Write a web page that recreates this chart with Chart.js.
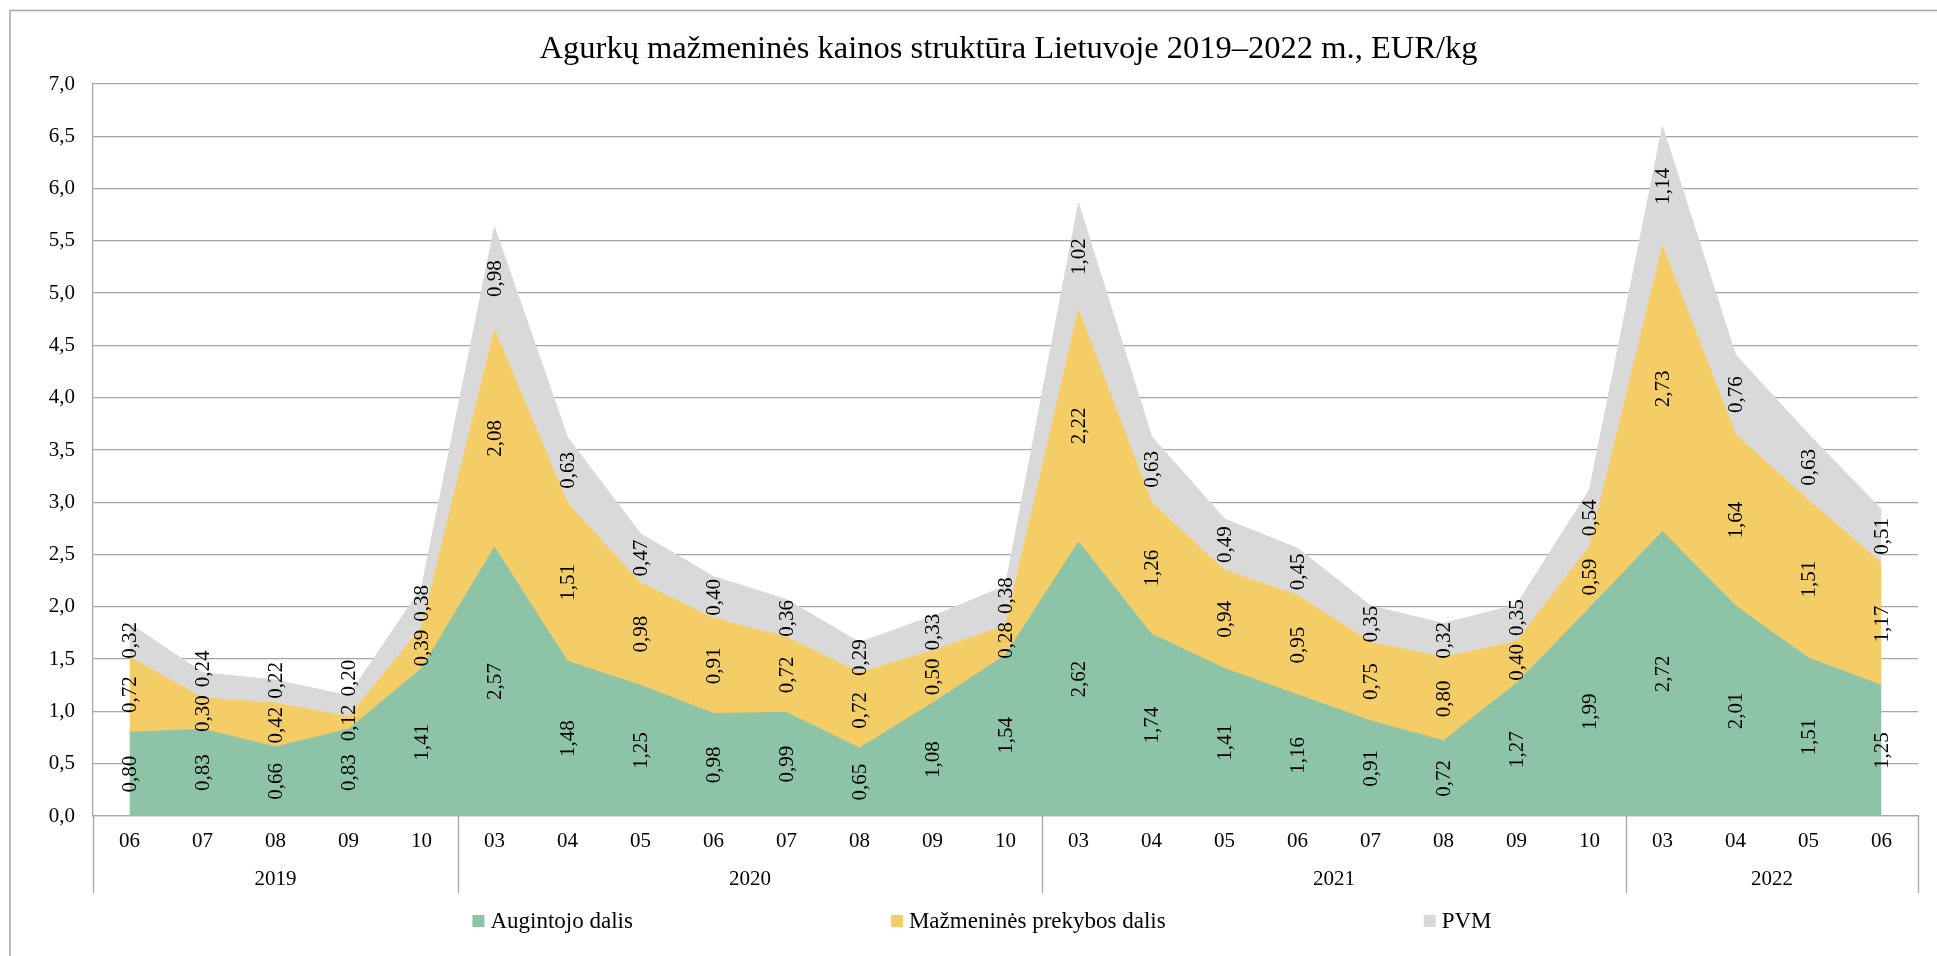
<!DOCTYPE html>
<html>
<head>
<meta charset="utf-8">
<title>Agurkų mažmeninės kainos struktūra</title>
<script src="https://cdn.jsdelivr.net/npm/chart.js@4.4.1/dist/chart.umd.min.js"></script>
<style>
  body { margin: 0; background: #fff; }
  canvas { display: block; }
</style>
</head>
<body>
<canvas id="myChart" width="1937" height="956"></canvas>
<script>
// data

const months = ['06', '07', '08', '09', '10',
  '03', '04', '05', '06', '07', '08', '09', '10',
  '03', '04', '05', '06', '07', '08', '09', '10',
  '03', '04', '05', '06'];
const yearLabels = ['2019', '2020', '2021', '2022'];
const yearCounts = [5, 8, 8, 4];

const augintojo = [0.80, 0.83, 0.66, 0.83, 1.41,
  2.57, 1.48, 1.25, 0.98, 0.99, 0.65, 1.08, 1.54,
  2.62, 1.74, 1.41, 1.16, 0.91, 0.72, 1.27, 1.99,
  2.72, 2.01, 1.51, 1.25];
const prekybos = [0.72, 0.30, 0.42, 0.12, 0.39,
  2.08, 1.51, 0.98, 0.91, 0.72, 0.72, 0.50, 0.28,
  2.22, 1.26, 0.94, 0.95, 0.75, 0.80, 0.40, 0.59,
  2.73, 1.64, 1.51, 1.17];
const pvm = [0.32, 0.24, 0.22, 0.20, 0.38,
  0.98, 0.63, 0.47, 0.40, 0.36, 0.29, 0.33, 0.38,
  1.02, 0.63, 0.49, 0.45, 0.35, 0.32, 0.35, 0.54,
  1.14, 0.76, 0.63, 0.51];

const seriesNames = ['Augintojo dalis', 'Mažmeninės prekybos dalis', 'PVM'];
const colors = ['#8DC3A7', '#F5CD67', '#D9D9D9'];
const chartTitle = 'Agurkų mažmeninės kainos struktūra Lietuvoje 2019–2022 m., EUR/kg';

const gridColor = '#A6A6A6';
const fontFamily = 'Liberation Serif, Times New Roman, serif';

Chart.defaults.font.family = fontFamily;
Chart.defaults.color = '#000';

const comma = (v, d) => v.toFixed(d).replace('.', ',');

// white background + outer frame
const framePlugin = {
  id: 'frame',
  beforeDraw(chart) {
    const c = chart.ctx;
    c.save();
    c.fillStyle = '#fff';
    c.fillRect(0, 0, chart.width, chart.height);
    c.strokeStyle = gridColor;
    c.lineWidth = 1.5;
    c.beginPath();
    c.moveTo(10, chart.height);
    c.lineTo(10, 10.5);
    c.lineTo(chart.width, 10.5);
    c.stroke();
    c.restore();
  }
};

// rotated value labels in the middle of each band, pushed apart when they collide
const valueLabels = {
  id: 'valueLabels',
  afterDatasetsDraw(chart) {
    const c = chart.ctx;
    const y = chart.scales.y;
    c.save();
    c.font = '21px ' + fontFamily;
    c.fillStyle = '#000';
    c.textAlign = 'center';
    c.textBaseline = 'middle';
    const gap = 8;
    const sets = chart.data.datasets;
    months.forEach((m, j) => {
      let base = 0;
      let prevTop = null;
      sets.forEach((ds, i) => {
        const v = ds.data[j];
        const px = chart.getDatasetMeta(i).data[j].x;
        let py = y.getPixelForValue(base + v / 2);
        base += v;
        const txt = comma(v, 2);
        const half = c.measureText(txt).width / 2;
        if (prevTop !== null && py + half > prevTop - gap) {
          py = prevTop - gap - half;
        }
        prevTop = py - half;
        c.save();
        c.translate(px, py);
        c.rotate(-Math.PI / 2);
        c.fillText(txt, 0, 1);
        c.restore();
      });
    });
    c.restore();
  }
};

// title, year row, separators and legend
const yearAxis = {
  id: 'yearAxis',
  afterDraw(chart) {
    const c = chart.ctx;
    const x = chart.scales.x;
    const area = chart.chartArea;
    const step = x.getPixelForValue(1) - x.getPixelForValue(0);
    c.save();
    c.fillStyle = '#000';
    c.textAlign = 'center';
    c.textBaseline = 'middle';

    // title centred over the plot area
    c.font = '32.5px ' + fontFamily;
    c.fillText(chartTitle, (area.left + area.right) / 2 + 3, 49);

    c.strokeStyle = gridColor;
    c.lineWidth = 1.3;
    c.font = '21px ' + fontFamily;

    let start = 0;
    const lines = [area.left];
    yearLabels.forEach((yl, k) => {
      const end = start + yearCounts[k] - 1;
      const mid = (x.getPixelForValue(start) + x.getPixelForValue(end)) / 2;
      c.fillText(yl, mid, area.bottom + 63);
      lines.push(x.getPixelForValue(end) + step / 2);
      start = end + 1;
    });
    lines.forEach(lx => {
      c.beginPath();
      c.moveTo(Math.round(lx) + 0.5, area.bottom);
      c.lineTo(Math.round(lx) + 0.5, area.bottom + 77);
      c.stroke();
    });

    // legend
    c.font = '23px ' + fontFamily;
    const gap = 258;
    const box = 12;
    const widths = seriesNames.map(n => box + 6 + c.measureText(n).width);
    const total = widths.reduce((a, b) => a + b, 0) + gap * (widths.length - 1);
    let lx = 982 - total / 2;
    const ly = 921;
    c.textAlign = 'left';
    seriesNames.forEach((n, i) => {
      c.fillStyle = colors[i];
      c.fillRect(lx, ly - box / 2, box, box);
      c.fillStyle = '#000';
      c.fillText(n, lx + box + 6, ly + 1);
      lx += widths[i] + gap;
    });
    c.restore();
  }
};

const ctx = document.getElementById('myChart').getContext('2d');
const myChart = new Chart(ctx, {
  type: 'line',
  data: {
    labels: months,
    datasets: [augintojo, prekybos, pvm].map((d, i) => ({
      label: seriesNames[i],
      data: d,
      backgroundColor: colors[i],
      borderColor: colors[i],
      borderWidth: 1,
      pointRadius: 0,
      pointHoverRadius: 0,
      tension: 0,
      fill: i === 0 ? 'origin' : '-1',
    }))
  },
  options: {
    responsive: false,
    animation: false,
    events: [],
    layout: {
      padding: { left: 0, right: 19, top: 84, bottom: 0 }
    },
    plugins: {
      legend: { display: false },
      tooltip: { enabled: false },
      title: { display: false }
    },
    scales: {
      x: {
        offset: true,
        grid: { display: false, drawTicks: false, offset: true },
        border: { display: true, color: gridColor, width: 1.3 },
        ticks: {
          autoSkip: false,
          maxRotation: 0,
          minRotation: 0,
          padding: 13,
          font: { size: 21 },
          color: '#000'
        },
        afterFit: s => { s.height = 140; }
      },
      y: {
        stacked: true,
        min: 0,
        max: 7,
        grid: { color: gridColor, lineWidth: 1.3, drawTicks: false },
        border: { display: true, color: gridColor, width: 1.3 },
        ticks: {
          stepSize: 0.5,
          padding: 18,
          font: { size: 21 },
          color: '#000',
          callback: v => comma(v, 1)
        },
        afterFit: s => { s.width = 93; }
      }
    }
  },
  plugins: [framePlugin, valueLabels, yearAxis]
});
</script>
</body>
</html>
